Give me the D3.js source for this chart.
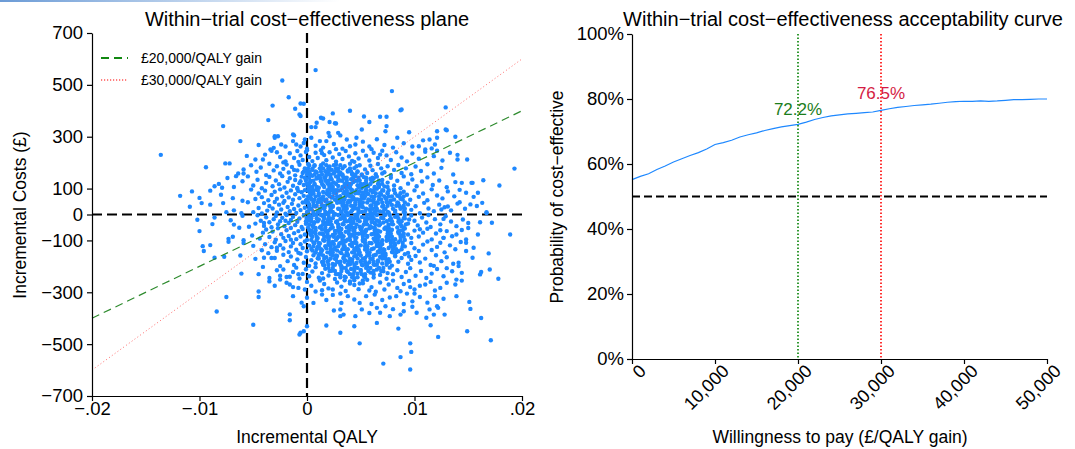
<!DOCTYPE html>
<html lang="en">
<head>
<meta charset="UTF-8">
<title>Within-trial cost-effectiveness</title>
<script src="https://cdn.jsdelivr.net/npm/d3@7.8.5/dist/d3.min.js"></script>
<style>
  body { margin: 0; background: #fff; }
  svg { display: block; font-family: 'Liberation Sans', Arial, Helvetica, sans-serif; }
  .axis path, .axis line { stroke: #000; stroke-width: 1.2; }
  .axis text { fill: #000; }
</style>
</head>
<body>
<div id="chart"></div>
<script>
// ---- data ----
// scatter: [incremental QALY x 10^4, incremental cost (£)]
const scatterPts = [
  // upper outliers
  [8,557],[-23,517],[79,476],[-17,452],[-6,428],[-3,427],[-11,408],[-32,420],[87,402],[129,413],[40,400],[88,405],
  [-7,386],[-6,380],[-36,364],[-78,341],[53,378],[58,357],[68,377],[74,377],[74,341],[24,390],[15,370],[21,357],
  [26,352],[4,337],[8,337],[13,373],[9,354],[27,351],[-12,305],[-30,302],[-27,302],[129,328],[121,296],[138,300],
  [73,321],[51,328],[95,317],[121,321],[130,325],[114,289],[104,263],[110,251],[193,177],[-136,230],[-94,182],[-76,197],
  [-86,109],[-79,103],[-66,148],[-59,158],[-88,-37],[-118,72],[-107,89],
  // c 250..300
  [-34,251],[-31,257],[-24,270],[-30,296],[-13,309],[-2,289],[4,296],[12,283],[18,283],[20,315],[21,302],[29,315],
  [31,305],[37,289],[46,296],[45,270],[40,263],[-62,283],[-13,283],[-10,270],[-6,262],[-3,276],[8,265],[15,258],
  [25,272],[33,254],[52,281],[58,262],[65,290],[72,268],[80,258],[90,275],[98,262],[108,286],[116,255],[-20,262],
  [-45,268],[0,254],[27,252],[60,252],[119,270],[84,296],
  // c 200..250
  [-48,212],[-39,231],[-41,212],[-28,240],[-25,222],[-20,205],[-16,236],[-12,218],[-9,245],[-6,228],[-4,210],[-1,241],
  [2,222],[5,206],[8,238],[10,218],[13,248],[16,229],[18,209],[21,240],[24,220],[27,204],[30,233],[33,214],
  [36,245],[39,224],[42,207],[45,236],[48,216],[52,246],[55,227],[58,208],[62,238],[66,218],[70,246],[74,228],
  [78,210],[83,240],[88,220],[93,205],[98,235],[104,215],[110,242],[118,225],[126,208],[133,238],[-33,246],[-56,226],
  [-22,201],[0,248],[149,212],[121,246],[140,230],[140,212],[-8,203],[14,236],[44,203],[68,231],
  // c 150..200
  [-64,158],[-59,174],[-52,190],[-47,165],[-43,181],[-38,152],[-35,196],[-31,170],[-28,186],[-25,158],[-22,176],[-19,193],
  [-17,162],[-14,183],[-11,151],[-9,170],[-7,192],[-4,160],[-2,178],[1,195],[3,155],[5,172],[7,188],[9,163],
  [11,150],[13,181],[15,197],[17,167],[19,154],[21,185],[23,172],[25,158],[27,193],[29,178],[31,162],[33,150],
  [35,186],[38,170],[40,196],[42,157],[44,179],[47,165],[49,190],[51,152],[54,174],[56,160],[59,188],[61,171],
  [64,155],[66,195],[69,178],[72,163],[75,186],[78,152],[81,172],[85,191],[88,160],[92,178],[97,155],[101,185],
  [106,168],[112,194],[118,158],[125,180],[136,154],[-72,197],[0,166],[20,176],[46,186],[70,158],[-12,172],
  // c 100..150
  [-82,118],[-74,141],[-68,106],[-60,128],[-55,147],[-50,112],[-46,134],[-42,101],[-38,122],[-35,145],[-32,109],[-29,131],
  [-26,117],[-23,148],[-21,104],[-18,126],[-16,140],[-13,111],[-11,133],[-9,102],[-7,121],[-5,146],[-3,114],[-1,137],
  [1,105],[3,125],[5,149],[7,116],[9,139],[11,103],[13,128],[15,113],[17,144],[19,120],[21,107],[23,135],
  [25,124],[27,147],[29,110],[31,131],[33,101],[35,142],[37,119],[39,106],[41,136],[43,125],[45,148],[47,113],
  [49,131],[51,102],[53,144],[55,121],[57,110],[59,138],[61,127],[63,104],[65,146],[67,116],[70,133],[72,108],
  [75,123],[78,142],[81,112],[84,130],[87,101],[90,147],[94,119],[98,135],[102,109],[107,127],[112,143],[117,114],
  [123,131],[130,105],[138,125],[144,122],[154,122],[164,132],[179,112],[153,122],[-6,128],[12,140],[36,112],[62,140],
  // c 50..100
  [-100,64],[-90,92],[-80,76],[-69,63],[-60,53],[-52,96],[-48,60],
  [-45,81],[-42,67],[-39,92],[-36,55],[-33,75],[-30,88],[-28,61],[-25,97],[-23,70],[-21,52],[-19,84],[-17,66],
  [-15,93],[-13,57],[-11,78],[-9,99],[-7,63],[-5,86],[-3,72],[-1,54],[1,91],[3,68],[5,80],[7,57],
  [9,95],[11,73],[13,61],[15,87],[17,52],[19,78],[21,98],[23,65],[25,84],[27,56],[29,92],[31,71],
  [33,60],[35,88],[37,75],[39,53],[41,97],[43,67],[45,82],[47,58],[49,90],[51,73],[53,62],[55,95],
  [57,79],[59,55],[61,86],[63,69],[65,99],[67,58],[69,77],[71,92],[73,64],[75,83],[78,54],[81,96],
  [84,72],[87,61],[90,88],[93,76],[96,57],[100,93],[104,68],[108,81],[112,55],[116,97],[121,73],[126,62],
  [131,89],[137,70],[148,84],[155,68],[159,84],[142,95],[4,60],[26,94],[52,85],[76,70],[-8,90],
  // c 0..50
  [-109,30],[-90,38],[-78,44],[-75,9],[-68,16],[-61,5],[-55,47],
  [-50,9],[-45,25],[-42,4],[-40,44],[-37,15],[-35,33],[-32,23],[-30,48],[-28,8],[-26,38],
  [-24,19],[-22,45],[-20,3],[-18,29],[-16,13],[-14,41],[-12,21],[-10,6],[-8,35],[-6,17],[-4,46],[-2,26],
  [0,10],[2,39],[4,20],[6,3],[8,31],[10,47],[12,14],[14,36],[16,24],[18,6],[20,42],[22,17],
  [24,30],[26,2],[28,45],[30,21],[32,11],[34,38],[36,27],[38,5],[40,49],[42,16],[44,33],[46,23],
  [48,8],[50,41],[52,28],[54,13],[56,46],[58,19],[60,35],[62,4],[64,25],[66,43],[68,12],[70,31],
  [72,20],[74,48],[76,7],[79,37],[82,15],[85,44],[88,26],[91,9],[94,39],[97,18],[101,32],[105,5],
  [109,45],[113,23],[118,13],[123,38],[128,28],[134,16],[140,42],[147,22],[152,39],[142,47],[167,9],[131,31],
  [125,19],[158,33],[163,45],[-98,44],[15,27],[45,40],[65,14],[86,33],
  // c -50..0
  [-102,-20],[-86,-12],[-71,-22],[-68,-39],[-60,-5],[-54,-47],[-48,-35],
  [-46,-3],[-43,-24],[-40,-44],[-38,-11],[-35,-30],[-33,-49],[-31,-18],[-29,-6],[-27,-38],[-25,-26],[-23,-13],[-21,-45],
  [-19,-2],[-17,-33],[-15,-21],[-13,-9],[-11,-41],[-9,-28],[-7,-15],[-5,-48],[-3,-4],[-1,-36],[1,-23],[3,-11],
  [5,-43],[7,-30],[9,-1],[11,-19],[13,-46],[15,-8],[17,-34],[19,-25],[21,-14],[23,-40],[25,-3],[27,-29],
  [29,-48],[31,-17],[33,-37],[35,-6],[37,-26],[39,-44],[41,-12],[43,-32],[45,-2],[47,-21],[49,-47],[51,-10],
  [53,-39],[55,-27],[57,-16],[59,-45],[61,-5],[63,-34],[65,-23],[67,-42],[69,-13],[71,-31],[73,-1],[75,-49],
  [77,-20],[79,-37],[82,-9],[85,-28],[88,-46],[91,-15],[94,-35],[97,-4],[100,-24],[103,-42],[107,-12],[111,-31],
  [115,-48],[119,-18],[124,-38],[129,-7],[134,-27],[139,-45],[145,-19],[150,-33],[161,-30],[172,-32],[127,-17],[113,-2],
  [95,-19],[60,-29],[40,-19],[20,-36],[0,-14],[-20,-24],[-40,-33],[167,6],
  // c -100..-50
  [-100,-64],[-73,-94],[-69,-86],[-63,-51],[-59,-99],[-51,-81],[-44,-93],
  [-41,-70],[-38,-58],[-35,-87],[-32,-66],[-29,-97],[-27,-53],[-24,-76],[-22,-90],[-19,-61],[-17,-83],[-15,-52],[-12,-72],
  [-10,-95],[-8,-64],[-6,-85],[-4,-56],[-2,-77],[0,-98],[2,-60],[4,-81],[6,-69],[8,-52],[10,-91],[12,-73],
  [14,-58],[16,-86],[18,-66],[20,-99],[22,-54],[24,-79],[26,-63],[28,-92],[30,-71],[32,-56],[34,-84],[36,-67],
  [38,-96],[40,-51],[42,-78],[44,-62],[46,-89],[48,-74],[50,-57],[52,-97],[54,-68],[56,-83],[58,-53],[60,-76],
  [62,-93],[64,-61],[66,-80],[68,-66],[70,-99],[72,-55],[74,-87],[76,-72],[79,-59],[82,-95],[85,-65],[88,-82],
  [91,-54],[94,-77],[97,-90],[100,-62],[104,-85],[108,-70],[112,-55],[116,-96],[120,-73],[124,-61],[127,-90],[130,-64],
  [135,-84],[139,-77],[144,-60],[148,-96],[159,-77],[189,-77],[150,-52],[25,-86],[45,-73],[65,-91],[85,-70],[105,-57],
  [15,-75],[55,-59],[35,-100],[-15,-97],
  // c -150..-100
  [-97,-122],[-96,-141],[-90,-118],[-73,-105],[-59,-110],[-50,-121],[-42,-138],[-39,-115],
  [-36,-149],[-33,-126],[-30,-107],[-28,-140],[-25,-118],[-22,-131],[-20,-102],[-17,-145],[-15,-123],[-13,-110],[-10,-136],[-8,-148],
  [-6,-115],[-4,-129],[-2,-104],[0,-142],[2,-120],[4,-133],[6,-108],[8,-147],[10,-125],[12,-112],[14,-138],[16,-101],
  [18,-130],[20,-117],[22,-144],[24,-106],[26,-127],[28,-139],[30,-113],[32,-149],[34,-121],[36,-103],[38,-134],[40,-116],
  [42,-146],[44,-109],[46,-128],[48,-140],[50,-119],[52,-102],[54,-135],[56,-124],[58,-148],[60,-111],[62,-131],[64,-105],
  [66,-143],[68,-122],[70,-114],[72,-137],[74,-101],[76,-129],[79,-145],[82,-117],[85,-107],[88,-134],[91,-123],[94,-148],
  [97,-110],[100,-130],[104,-141],[108,-116],[112,-104],[116,-137],[121,-125],[124,-109],[128,-146],[133,-119],[138,-134],[143,-106],
  [148,-109],[148,-141],[169,-150],[155,-128],[-28,-128],[5,-139],[25,-114],[45,-137],[65,-118],[85,-142],[127,-90],
  // c -200..-150
  [-86,-167],[-77,-163],[-62,-158],[-48,-171],[-40,-167],[-33,-168],[-30,-168],[-25,-199],[-22,-155],[-18,-180],
  [-15,-162],[-12,-195],[-9,-173],[-6,-151],[-3,-186],[-1,-164],[2,-198],[4,-176],[6,-157],[8,-189],[10,-169],[12,-152],
  [14,-183],[16,-196],[18,-165],[20,-178],[22,-154],[24,-191],[26,-171],[28,-160],[30,-185],[32,-199],[34,-166],[36,-177],
  [38,-155],[40,-192],[42,-173],[44,-161],[46,-187],[48,-152],[50,-180],[52,-196],[54,-168],[56,-158],[58,-184],[60,-171],
  [62,-193],[64,-155],[66,-177],[68,-164],[70,-189],[73,-151],[76,-172],[79,-197],[82,-161],[85,-182],[88,-168],[91,-153],
  [94,-190],[97,-175],[101,-160],[105,-185],[110,-170],[115,-195],[120,-157],[125,-180],[130,-165],[136,-190],[141,-186],[141,-199],
  [154,-167],[118,-198],[35,-182],[55,-190],[75,-185],[95,-162],
  // c -250..-200
  [-61,-228],[-41,-202],[-35,-245],[-28,-215],[-25,-236],[-22,-212],[-19,-241],[-16,-240],[-13,-222],[-10,-205],[-7,-247],[-4,-229],
  [-1,-211],[2,-238],[5,-220],[8,-203],[11,-244],[14,-226],[17,-209],[20,-235],[23,-217],[26,-249],[29,-230],[32,-206],
  [35,-240],[38,-222],[41,-210],[44,-246],[47,-228],[50,-214],[53,-237],[56,-202],[59,-224],[62,-243],[65,-212],[68,-233],
  [71,-219],[74,-248],[77,-205],[80,-230],[84,-215],[88,-241],[92,-222],[96,-207],[101,-236],[106,-218],[111,-245],[116,-228],
  [121,-210],[127,-238],[135,-219],[139,-251],[162,-222],[161,-231],[170,-212],[144,-225],[130,-207],[15,-247],[45,-203],[75,-226],
  [-45,-230],[-8,-230],
  // c -300..-250
  [-45,-297],[-35,-258],[-25,-251],[-19,-263],[-16,-270],[-8,-283],[-13,-280],[-2,-289],[0,-260],[4,-275],[8,-297],[12,-255],
  [16,-268],[20,-285],[24,-289],[28,-262],[32,-278],[36,-295],[40,-258],[44,-272],[48,-288],[52,-265],[56,-252],[60,-280],
  [64,-298],[68,-262],[72,-289],[76,-270],[80,-255],[84,-283],[87,-296],[90,-268],[95,-256],[100,-289],[105,-275],[110,-270],
  [115,-260],[119,-293],[124,-283],[130,-263],[138,-270],[144,-255],[178,-248],[14,-292],[58,-293],[96,-280],[-30,-275],
  // c -350..-300
  [-75,-318],[-45,-318],[-13,-315],[0,-321],[6,-341],[14,-309],[24,-310],[31,-305],[32,-341],[38,-315],[44,-328],[49,-341],
  [55,-315],[63,-309],[70,-330],[73,-354],[77,-320],[83,-315],[90,-345],[93,-305],[98,-335],[105,-318],[112,-340],[119,-315],
  [122,-360],[139,-315],[151,-337],[127,-325],[60,-345],[18,-330],[-5,-340],[100,-305],
  // c -400..-350
  [-84,-374],[-3,-354],[31,-366],[51,-366],[65,-360],[68,-379],[77,-392],[87,-386],[90,-373],[98,-356],[102,-379],[111,-398],
  [114,-366],[118,-386],[121,-354],[128,-386],[152,-364],[162,-399],[45,-392],[31,-392],[34,-386],[-16,-385],[25,-370],[58,-380],
  [80,-365],
  // c below -400
  [-50,-425],[-16,-408],[18,-428],[44,-431],[0,-431],[115,-427],[122,-472],[-3,-450],[149,-450],[-6,-456],[31,-456],[-7,-463],
  [65,-418],[85,-440],[49,-497],[96,-497],[97,-530],[87,-550],[96,-598],[71,-575],[171,-485]
];

// dense centre of the cloud: [incremental cost (£), QALY x 10^4 values read along that cost level]
const coreRows = [
  [190, [2,7,13,18,25,31]],
  [178, [1,5,12,15,20,27,33,40]],
  [166, [-3,2,8,13,20,26,29,38,41,47]],
  [154, [0,3,7,14,18,22,30,33,42,45,51]],
  [142, [-2,2,9,12,16,22,29,34,37,43,48,55,61]],
  [130, [-1,3,6,13,17,20,29,33,37,45,47,55,60,67]],
  [118, [0,2,7,14,20,23,27,35,39,41,50,53,59,66,70]],
  [106, [2,5,9,16,21,24,33,36,40,48,51,55,63,67,75]],
  [94,  [-2,3,6,10,19,23,28,31,37,42,46,55,59,62,70,76,81]],
  [82,  [3,6,11,18,21,27,34,38,41,48,53,56,64,68,75,82,87]],
  [70,  [1,3,8,15,21,24,28,36,40,42,51,54,60,67,72,79,86,90]],
  [58,  [0,4,11,15,18,26,30,35,42,45,50,57,62,69,74,81,89]],
  [46,  [-1,1,6,13,19,22,31,34,38,45,49,52,62,65,70,77,84,91]],
  [34,  [2,6,9,17,21,24,33,37,41,49,51,59,64,71,75,83,90]],
  [22,  [2,4,12,16,22,29,34,37,43,48,55,61,65,73,80,87,91]],
  [10,  [1,6,10,17,21,24,32,36,41,48,51,59,63,71,75,82,90]],
  [-2,  [2,6,13,16,20,29,33,38,45,47,56,59,65,72,77,84,91]],
  [-14, [0,4,9,16,20,24,32,35,44,47,54,59,62,71,78,85,90]],
  [-26, [-1,4,10,15,22,28,35,40,43,49,54,61,67,74,79,86,88]],
  [-38, [2,6,15,18,22,29,34,41,46,53,56,64,68,76,80,87,92]],
  [-50, [1,6,12,17,24,30,37,42,45,51,60,63,73,76,84,90]],
  [-62, [4,8,17,20,28,31,39,43,51,55,63,66,75,78,86,89]],
  [-74, [3,8,14,19,26,32,39,44,51,53,62,65,75,78,86,90]],
  [-86, [5,9,18,21,29,32,40,44,52,56,64,67,76,79,87,90]],
  [-98, [4,9,15,20,27,33,40,45,52,54,63,66,76,79,87,91]],
  [-110,[7,11,20,23,31,34,42,46,54,58,66,69,78,81,89]],
  [-122,[6,11,17,22,29,35,42,47,54,56,65,68,78,81,89]],
  [-134,[9,13,22,25,33,36,44,48,56,60,68,71,80,83]],
  [-146,[8,13,19,24,31,37,44,49,56,58,67,70,80,83]],
  [-158,[11,15,24,27,35,38,46,50,58,62,70,73,82]],
  [-170,[11,16,22,27,34,40,47,52,59,61,70,73]],
  [-182,[15,19,28,31,39,42,50,54,62,66,74,77]],
  [-194,[15,20,26,31,38,44,51,56,63,65,74]],
  [-206,[20,24,33,36,44,47,55,59,67,71]],
  [-218,[21,26,32,37,44,50,57,62,69]],
  [-230,[27,31,40,43,51,54,62]],
  [-242,[31,36,42,47,54]],
  [-254,[35,44,52]],
  [-266,[40,49]]
];

const wtpThresholds = [20000, 30000];
const thresholdLabels = ["£20,000/QALY gain", "£30,000/QALY gain"];

// CEAC: willingness to pay (£) and probability cost-effective (%)
const wtp = [0,1000,2000,3000,4000,5000,6000,7000,8000,9000,10000,11000,12000,13000,14000,15000,16000,17000,
  18000,19000,20000,21000,22000,23000,24000,25000,26000,27000,28000,29000,30000,31000,32000,33000,34000,35000,
  36000,37000,38000,39000,40000,41000,42000,43000,44000,45000,46000,47000,48000,49000,50000];
const probCE = [55.2,56.2,57.0,58.3,59.4,60.6,61.6,62.6,63.5,64.6,66.0,66.6,67.3,68.3,69.0,69.6,70.3,70.9,
  71.4,71.8,72.2,72.9,73.7,74.3,74.8,75.1,75.4,75.6,75.8,76.0,76.5,77.0,77.4,77.7,78.0,78.2,
  78.4,78.7,79.0,79.2,79.3,79.3,79.4,79.3,79.4,79.6,79.8,79.8,79.9,80.0,80.0];
const markerLabels = ["72.2%", "76.5%"];

const costTicks = [-700,-500,-300,-100,0,100,300,500,700];
const qalyTicks = [-0.02,-0.01,0,0.01,0.02];
const probTicks = [0,0.2,0.4,0.6,0.8,1];
const wtpTicks = [0,10000,20000,30000,40000,50000];

const allPts = scatterPts.concat(coreRows.flatMap(([c, qs]) => qs.map(q => [q, c])));

// ---- svg ----
const W = 1075, H = 449;
const svg = d3.select('#chart').append('svg').attr('width', W).attr('height', H);

// thin fading bar at the top edge
const grad = svg.append('defs').append('linearGradient').attr('id', 'topbar');
grad.append('stop').attr('offset', '0%').attr('stop-color', '#6b9bd6');
grad.append('stop').attr('offset', '100%').attr('stop-color', '#6b9bd6').attr('stop-opacity', 0);
svg.append('rect').attr('x', 0).attr('y', 0).attr('width', 340).attr('height', 2).attr('fill', 'url(#topbar)');

const minus = s => String(s).replace('-', '\u2212');

// ================= left: CE plane =================
const xL = d3.scaleLinear().domain([-0.02, 0.02]).range([92, 522]);
const yL = d3.scaleLinear().domain([-700, 700]).range([396, 33]);

// quadrant lines
svg.append('line').attr('x1', xL(0)).attr('x2', xL(0)).attr('y1', yL(700)).attr('y2', yL(-700))
  .attr('stroke', '#000').attr('stroke-width', 2.2).attr('stroke-dasharray', '10,5');
svg.append('line').attr('x1', xL(-0.02)).attr('x2', xL(0.02)).attr('y1', yL(0)).attr('y2', yL(0))
  .attr('stroke', '#000').attr('stroke-width', 2.2).attr('stroke-dasharray', '10,5');

svg.append('g').selectAll('circle')
  .data(allPts)
  .enter()
  .append('circle')
  .attr('cx', d => xL(d[0] / 1e4))
  .attr('cy', d => yL(d[1]))
  .attr('r', 2.2)
  .attr('fill', '#1e88ff');

// willingness-to-pay lines through the origin
const thrStyles = [
  { stroke: '#2e8b2e', width: 1.2, dash: '8,5', opacity: 1 },
  { stroke: '#ff3030', width: 1, dash: '1,2.5', opacity: 0.7 }
];
wtpThresholds.forEach((k, i) => {
  svg.append('line')
    .attr('x1', xL(-0.02)).attr('y1', yL(-0.02 * k))
    .attr('x2', xL(0.02)).attr('y2', yL(0.02 * k))
    .attr('stroke', thrStyles[i].stroke).attr('stroke-width', thrStyles[i].width)
    .attr('stroke-dasharray', thrStyles[i].dash).attr('opacity', thrStyles[i].opacity);
});

// axes
svg.append('g').attr('class', 'axis')
  .attr('transform', `translate(${xL(-0.02)},0)`)
  .call(d3.axisLeft(yL).tickValues(costTicks).tickSize(5).tickSizeOuter(0).tickFormat(d => minus(d)))
  .call(g => g.selectAll('text').style('font-size', '18.5px').attr('dx', '-1'));

svg.append('g').attr('class', 'axis')
  .attr('transform', `translate(0,${yL(-700)})`)
  .call(d3.axisBottom(xL).tickValues(qalyTicks).tickSize(5).tickSizeOuter(0)
    .tickFormat(d => d === 0 ? '0' : minus(d3.format('.2f')(d).replace('0.', '.'))))
  .call(g => g.selectAll('text').style('font-size', '18.5px').attr('dy', '0.62em'));

// legend
thresholdLabels.forEach((t, i) => {
  const ly = 58 + i * 22;
  svg.append('line').attr('x1', 101).attr('x2', 128).attr('y1', ly).attr('y2', ly)
    .attr('stroke', i === 0 ? '#118811' : '#ff0000')
    .attr('stroke-width', i === 0 ? 2 : 1.2)
    .attr('stroke-dasharray', i === 0 ? '8,5' : '1.2,1.8');
  svg.append('text').attr('x', 141).attr('y', ly + 5).style('font-size', '14px').text(t);
});

svg.append('text').attr('x', 307).attr('y', 26).attr('text-anchor', 'middle')
  .style('font-size', '20px').text('Within\u2212trial cost\u2212effectiveness plane');
svg.append('text').attr('x', 307).attr('y', 443).attr('text-anchor', 'middle')
  .style('font-size', '17.5px').text('Incremental QALY');
svg.append('text').attr('transform', 'translate(26,215) rotate(-90)').attr('text-anchor', 'middle')
  .style('font-size', '17.5px').text('Incremental Costs (£)');

// ================= right: CEAC =================
const xR = d3.scaleLinear().domain([0, 50000]).range([632, 1047]);
const yR = d3.scaleLinear().domain([0, 1]).range([359, 34]);

svg.append('line').attr('x1', xR(0)).attr('x2', xR(50000)).attr('y1', yR(0.5)).attr('y2', yR(0.5))
  .attr('stroke', '#000').attr('stroke-width', 2).attr('stroke-dasharray', '8,4');

const vColors = ['#008000', '#ff0000'];
wtpThresholds.forEach((k, i) => {
  svg.append('line').attr('x1', xR(k)).attr('x2', xR(k)).attr('y1', yR(1)).attr('y2', yR(0))
    .attr('stroke', vColors[i]).attr('stroke-width', 1.6).attr('stroke-dasharray', '1.5,2');
});

const line = d3.line().x((d, i) => xR(wtp[i])).y(d => yR(d / 100));
svg.append('path').datum(probCE).attr('d', line)
  .attr('fill', 'none').attr('stroke', '#1e88ff').attr('stroke-width', 1.2);

const labelColors = ['#1b7d1b', '#d41c44'];
const labelY = [115, 99];
wtpThresholds.forEach((k, i) => {
  svg.append('text').attr('x', xR(k)).attr('y', labelY[i]).attr('text-anchor', 'middle')
    .style('font-size', '17px').attr('fill', labelColors[i]).text(markerLabels[i]);
});

svg.append('g').attr('class', 'axis')
  .attr('transform', `translate(${xR(0)},0)`)
  .call(d3.axisLeft(yR).tickValues(probTicks).tickSize(5).tickSizeOuter(0).tickFormat(d3.format('.0%')))
  .call(g => g.selectAll('text').style('font-size', '18.5px'));

svg.append('g').attr('class', 'axis')
  .attr('transform', `translate(0,${yR(0)})`)
  .call(d3.axisBottom(xR).tickValues(wtpTicks).tickSize(5).tickSizeOuter(0).tickFormat(d3.format(',')))
  .call(g => g.selectAll('text')
    .style('font-size', '18px')
    .attr('text-anchor', 'end')
    .attr('x', 1).attr('y', 7).attr('dy', '0.7em')
    .attr('transform', 'rotate(-45)'));

svg.append('text').attr('x', 843).attr('y', 26).attr('text-anchor', 'middle')
  .style('font-size', '20px').text('Within\u2212trial cost\u2212effectiveness acceptability curve');
svg.append('text').attr('x', 840).attr('y', 443).attr('text-anchor', 'middle')
  .style('font-size', '17.5px').text('Willingness to pay (£/QALY gain)');
svg.append('text').attr('transform', 'translate(563,197) rotate(-90)').attr('text-anchor', 'middle')
  .style('font-size', '17.5px').text('Probability of cost\u2212effective');
</script>
</body>
</html>
